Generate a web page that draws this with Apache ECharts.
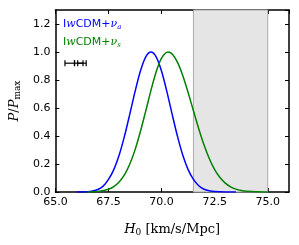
<!DOCTYPE html>
<html><head><meta charset="utf-8">
<script src="https://cdn.jsdelivr.net/npm/echarts@6/dist/echarts.min.js"></script>
<style>html,body{margin:0;padding:0;background:#fff}#c{width:299px;height:245px}</style>
</head><body><div id="c"></div>
<script>
// H0 grid [km/s/Mpc]
const blueX = [66.0,66.5,66.75,67.0,67.25,67.5,67.75,68.0,68.25,68.5,68.75,69.0,69.25,69.5,69.75,70.0,70.25,70.5,70.75,71.0,71.25,71.5,71.75,72.0,72.25,72.5,73.0,73.5];
const blueY = [0.0,0.002,0.007,0.018,0.042,0.09,0.16,0.262,0.397,0.554,0.717,0.863,0.964,1.0,0.964,0.863,0.717,0.554,0.397,0.262,0.16,0.09,0.045,0.02,0.009,0.004,0.0007,0.0];
const greenX = [66.5,67.0,67.5,67.75,68.0,68.25,68.5,68.75,69.0,69.25,69.5,69.75,70.0,70.3,70.5,70.75,71.0,71.25,71.5,71.75,72.0,72.25,72.5,72.75,73.0,73.25,73.5,73.75,74.0,74.5,75.0];
const greenY = [0.0007,0.0043,0.0198,0.0387,0.071,0.122,0.198,0.301,0.430,0.576,0.726,0.860,0.956,1.0,0.985,0.926,0.831,0.711,0.580,0.452,0.335,0.237,0.160,0.103,0.0635,0.0372,0.0208,0.0111,0.0057,0.0013,0.0002];
// excluded / reference band
const bandRange = [71.5, 75.0];
// small error-bar markers: [xlow, xhigh, y]
const errBars = [[65.45, 65.9, 0.92], [65.9, 66.45, 0.92], [66.05, 66.3, 0.92]];
const xTicks = [65.0, 67.5, 70.0, 72.5, 75.0];
const yTicks = [0.0, 0.2, 0.4, 0.6, 0.8, 1.0, 1.2];

const zip = (a, b) => a.map((v, i) => [v, b[i]]);
const chart = echarts.init(document.getElementById('c'), null, {renderer: 'canvas'});
const lab = {fontFamily: 'DejaVu Sans', fontSize: 11, color: '#000'};
const frame = {show: true, onZero: false, lineStyle: {color: '#000', width: 1.5}};
chart.setOption({
  animation: false,
  grid: {left: 53, right: 10, top: 10, bottom: 53},
  xAxis: [{
    type: 'value', min: 65, max: 76, interval: 2.5,
    axisLine: frame, splitLine: {show: false},
    axisTick: {inside: true, length: 4, lineStyle: {color: '#000', width: 1}},
    axisLabel: Object.assign({}, lab, {margin: 5, showMaxLabel: false, formatter: v => xTicks.includes(v) ? v.toFixed(1) : ''}),
    name: '{i|H}{s|0}{n| [km/s/Mpc]}', nameLocation: 'middle', nameGap: 30,
    nameTextStyle: {rich: {
      i: {fontFamily: 'DejaVu Serif', fontStyle: 'italic', fontSize: 13, color: '#000'},
      s: {fontFamily: 'DejaVu Serif', fontSize: 9, color: '#000', verticalAlign: 'bottom', padding: [6, 0, 0, 0]},
      n: {fontFamily: 'DejaVu Serif', fontSize: 13, color: '#000'}
    }}
  }, {
    type: 'value', position: 'top', min: 65, max: 76, interval: 2.5,
    axisLine: frame, splitLine: {show: false}, axisLabel: {show: false},
    axisTick: {inside: true, length: 4, lineStyle: {color: '#000', width: 1}}
  }],
  yAxis: [{
    type: 'value', min: 0, max: 1.3, interval: 0.2,
    axisLine: frame, splitLine: {show: false},
    axisTick: {inside: true, length: 4, lineStyle: {color: '#000', width: 1}},
    axisLabel: Object.assign({}, lab, {margin: 5, showMaxLabel: false, formatter: v => yTicks.some(t => Math.abs(t - v) < 1e-6) ? v.toFixed(1) : ''}),
    name: '{i|P}{n|/}{i|P}{s|max}', nameLocation: 'middle', nameGap: 33,
    nameTextStyle: {rich: {
      i: {fontFamily: 'DejaVu Serif', fontStyle: 'italic', fontSize: 13, color: '#000'},
      s: {fontFamily: 'DejaVu Serif', fontSize: 9, color: '#000', padding: [6, 0, 0, 0]},
      n: {fontFamily: 'DejaVu Serif', fontSize: 13, color: '#000'}
    }}
  }, {
    type: 'value', position: 'right', min: 0, max: 1.3, interval: 0.2,
    axisLine: frame, splitLine: {show: false}, axisLabel: {show: false},
    axisTick: {inside: true, length: 4, lineStyle: {color: '#000', width: 1}}
  }],
  series: [{
    type: 'line', data: [], xAxisIndex: 0, yAxisIndex: 0, silent: true,
    markArea: {silent: true, itemStyle: {color: '#e5e5e5', borderColor: '#aaaaaa', borderWidth: 1},
      data: [[{xAxis: bandRange[0], yAxis: 0}, {xAxis: bandRange[1], yAxis: 1.3}]]}
  }, {
    type: 'line', data: zip(blueX, blueY), smooth: 0.3, showSymbol: false,
    lineStyle: {color: '#0000ff', width: 1.5}, z: 3
  }, {
    type: 'line', data: zip(greenX, greenY), smooth: 0.3, showSymbol: false,
    lineStyle: {color: '#008000', width: 1.5}, z: 3
  }, {
    type: 'custom', data: errBars, z: 4,
    renderItem: (params, api) => {
      const a = api.coord([api.value(0), api.value(2)]);
      const b = api.coord([api.value(1), api.value(2)]);
      const st = {stroke: '#000', lineWidth: 1.2};
      return {type: 'group', children: [
        {type: 'line', shape: {x1: a[0], y1: a[1], x2: b[0], y2: b[1]}, style: st},
        {type: 'line', shape: {x1: a[0], y1: a[1] - 3, x2: a[0], y2: a[1] + 3}, style: st},
        {type: 'line', shape: {x1: b[0], y1: b[1] - 3, x2: b[0], y2: b[1] + 3}, style: st}
      ]};
    }
  }],
  graphic: [{
    type: 'text', left: 63, top: 19,
    style: {text: '{n|I}{i|w}{n|CDM+}{i|ν}{s|a}', rich: {
      n: {fontFamily: 'DejaVu Sans', fontSize: 11, fill: '#0000ff'},
      i: {fontFamily: 'DejaVu Serif', fontStyle: 'italic', fontSize: 11, fill: '#0000ff'},
      s: {fontFamily: 'DejaVu Serif', fontStyle: 'italic', fontSize: 7, fill: '#0000ff', padding: [6, 0, 0, 0]}
    }}
  }, {
    type: 'text', left: 63, top: 37,
    style: {text: '{n|I}{i|w}{n|CDM+}{i|ν}{s|s}', rich: {
      n: {fontFamily: 'DejaVu Sans', fontSize: 11, fill: '#008000'},
      i: {fontFamily: 'DejaVu Serif', fontStyle: 'italic', fontSize: 11, fill: '#008000'},
      s: {fontFamily: 'DejaVu Serif', fontStyle: 'italic', fontSize: 7, fill: '#008000', padding: [6, 0, 0, 0]}
    }}
  }]
});
</script></body></html>
